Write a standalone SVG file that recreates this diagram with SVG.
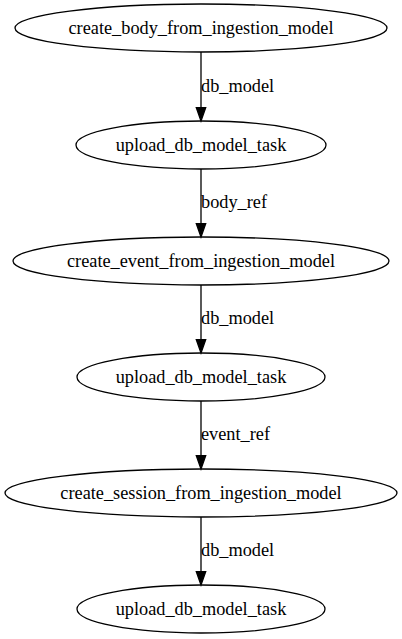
<svg xmlns="http://www.w3.org/2000/svg" width="402" height="639" viewBox="0 0 402 639">
<style>
.n ellipse{fill:none;stroke:#000;stroke-width:1.3}
text{font-family:"Liberation Serif","Times New Roman",serif;font-size:18.3px;fill:#000}
.n text{text-anchor:middle}
.e line{stroke:#000;stroke-width:1.3}
.e polygon{fill:#000;stroke:#000;stroke-width:1.3}
</style>
<rect width="402" height="639" fill="#fff"/>
<g id="edges" class="e">
<line x1="201" y1="52" x2="201" y2="108"/><polygon points="201,121 196.3,107.7 205.7,107.7"/><text x="201" y="92">db_model</text>
<line x1="201" y1="169" x2="201" y2="224"/><polygon points="201,237 196.3,223.7 205.7,223.7"/><text x="201" y="208">body_ref</text>
<line x1="201" y1="285" x2="201" y2="340"/><polygon points="201,353 196.3,339.7 205.7,339.7"/><text x="201" y="324">db_model</text>
<line x1="201" y1="401" x2="201" y2="456"/><polygon points="201,469 196.3,455.7 205.7,455.7"/><text x="201" y="440">event_ref</text>
<line x1="201" y1="517" x2="201" y2="572"/><polygon points="201,585 196.3,571.7 205.7,571.7"/><text x="201" y="556">db_model</text>
</g>
<g id="n1" class="n"><ellipse cx="201" cy="28" rx="186" ry="24"/><text x="201" y="34">create_body_from_ingestion_model</text></g>
<g id="n2" class="n"><ellipse cx="201" cy="145" rx="125" ry="24"/><text x="201" y="151">upload_db_model_task</text></g>
<g id="n3" class="n"><ellipse cx="201" cy="261" rx="188" ry="24"/><text x="201" y="267">create_event_from_ingestion_model</text></g>
<g id="n4" class="n"><ellipse cx="201" cy="377" rx="124" ry="24"/><text x="201" y="383">upload_db_model_task</text></g>
<g id="n5" class="n"><ellipse cx="201" cy="493" rx="196" ry="24"/><text x="201" y="499">create_session_from_ingestion_model</text></g>
<g id="n6" class="n"><ellipse cx="201" cy="609" rx="124" ry="24"/><text x="201" y="615">upload_db_model_task</text></g>
</svg>
